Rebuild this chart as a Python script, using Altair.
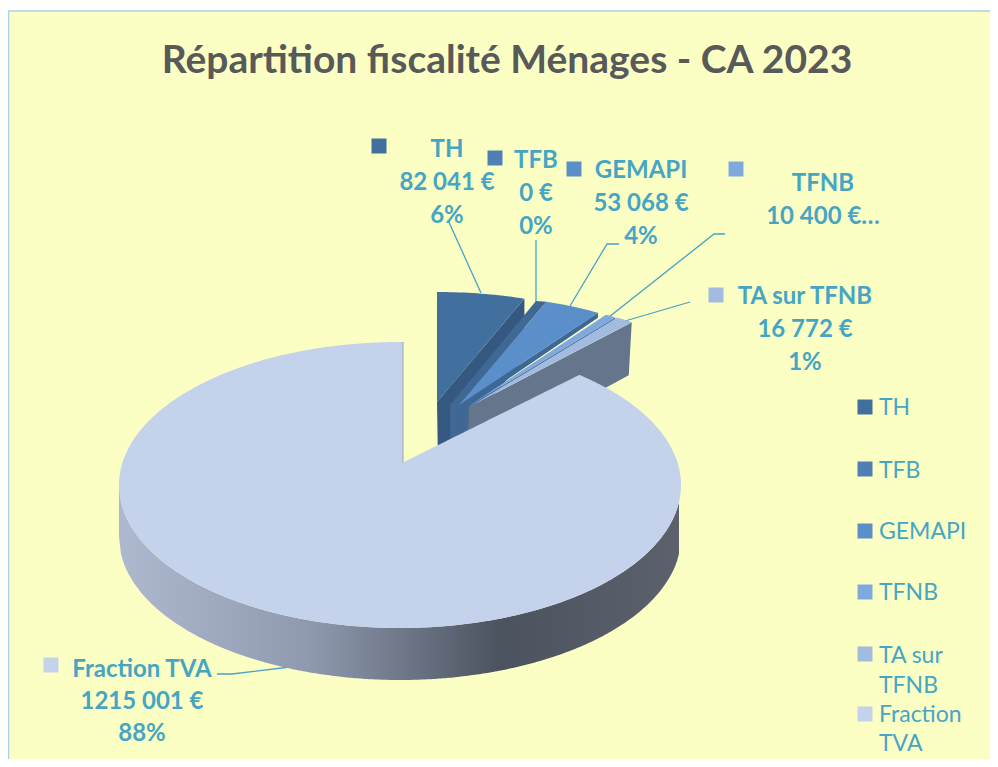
import math
import altair as alt
import pandas as pd

# ---- chart values -------------------------------------------------------
categories = ["TH", "TFB", "GEMAPI", "TFNB", "TA sur TFNB", "Fraction TVA"]
amounts = [82041, 0, 53068, 10400, 16772, 1215001]
amount_labels = ["82 041 €", "0 €", "53 068 €", "10 400 €…", "16 772 €", "1215 001 €"]
pct_labels = ["6%", "0%", "4%", "", "1%", "88%"]
colors = ["#41709f", "#4f7fb5", "#5a8fca", "#7fa8dc", "#a3bbdf", "#c4d2eb"]

# ---- layout (page pixels) -----------------------------------------------
W, H = 982, 751
X0, Y0 = 8, 8
FONT = "Lato"
LABEL = "#46a5c5"
BG = "#fbffc4"
ANGLE_SCALE = 0.935        # foreshortening of the 3D view
APEX = {"TH": (437, 402), "TFB": (450, 405), "GEMAPI": (459, 405),
        "TFNB": (467, 407), "TA sur TFNB": (469, 407)}
RX, RY = 255, 110          # back slices
CX, CY, MRX, MRY = 400, 485, 281, 143  # main slice ellipse
MAIN_APEX = (402, 463)
DEPTH = 52

x_enc = alt.X("x:Q", scale=alt.Scale(domain=[X0, X0 + W], nice=False, zero=False), axis=None)
y_scale = alt.Scale(domain=[Y0 + H, Y0], nice=False, zero=False)
y_enc = alt.Y("y:Q", scale=y_scale, axis=None)

total = sum(amounts)
cum, angles = 0.0, {}
for c, a in zip(categories, amounts):
    start = cum
    cum += a / total * 360
    angles[c] = (start * ANGLE_SCALE, min(cum * ANGLE_SCALE, 360) if c != categories[-1] else 360)


def rim(c, t):
    ax, ay = APEX[c]
    r = math.radians(t)
    return (ax + RX * math.sin(r), ay - RY * math.cos(r))


def poly_area(points, color):
    """Filled polygon (at most two crossings per x) drawn through the scales."""
    xs = set()
    for p in points:
        xs.update([p[0] - 0.01, p[0] + 0.01])
    lo, hi = min(p[0] for p in points), max(p[0] for p in points)
    rows = []
    for x in sorted(v for v in xs if lo <= v <= hi):
        ys = []
        for (x1, y1), (x2, y2) in zip(points, points[1:] + points[:1]):
            if min(x1, x2) <= x <= max(x1, x2) and x1 != x2:
                ys.append(y1 + (y2 - y1) * (x - x1) / (x2 - x1))
        if ys:
            rows.append({"x": x, "y": min(ys), "y2": max(ys)})
    return alt.Chart(pd.DataFrame(rows)).mark_area(color=color).encode(x=x_enc, y=y_enc, y2="y2:Q")


def top_face(c, color):
    t0, t1 = angles[c]
    n = max(int(t1 - t0), 2)
    arc = [rim(c, t0 + (t1 - t0) * i / n) for i in range(n + 1)]
    return poly_area([APEX[c]] + arc, color)


layers = []

# background and frame
layers.append(alt.Chart(pd.DataFrame([{"x": 8, "x2": 990, "y": 11, "y2": 759}])).mark_rect(color=BG)
              .encode(x=x_enc, x2="x2:Q", y=y_enc, y2="y2:Q"))
layers.append(alt.Chart(pd.DataFrame([{"x": 8.5, "y": 11, "y2": 759}])).mark_rule(color="#a9d2e6", strokeWidth=1.5)
              .encode(x=x_enc, y=y_enc, y2="y2:Q"))
layers.append(alt.Chart(pd.DataFrame([{"x": 8, "x2": 990, "y": 11}])).mark_rule(color="#a9d2e6", strokeWidth=1.5)
              .encode(x=x_enc, x2="x2:Q", y=y_enc))

# leader lines
leaders = {
    "TH": [(448, 220), (481, 293)],
    "TFB": [(536, 240), (536, 302)],
    "GEMAPI": [(619, 244), (607, 244), (570, 306)],
    "TFNB": [(725, 234), (714, 234), (609, 317)],
    "TA sur TFNB": [(690, 302), (625, 321)],
    "Fraction TVA": [(217, 674), (232, 674), (290, 667)],
}
rows = [{"c": c, "i": i, "x": p[0], "y": p[1]} for c, pts in leaders.items() for i, p in enumerate(pts)]
layers.append(alt.Chart(pd.DataFrame(rows)).mark_line(color="#45a2c4", strokeWidth=1.3)
              .encode(x=x_enc, y=y_enc, detail="c:N", order="i:Q"))

# TH wall and top
A = APEX["TH"]
R = rim("TH", angles["TH"][1])
layers.append(poly_area([A, R, (R[0], R[1] + 60), (A[0] + 1, A[1] + 60)], "#34587f"))
layers.append(top_face("TH", colors[0]))

# zero-width TFB slice: only its side remains, joining TH and GEMAPI
A_f, R_f = APEX["TFB"], rim("TFB", angles["TH"][1] + 2)
A_g, R_g = APEX["GEMAPI"], rim("GEMAPI", angles["GEMAPI"][0])
A_t = APEX["TA sur TFNB"]
layers.append(poly_area([A_f, (536, 301), R_g, A_g, (A_t[0], A_t[1]),
                         (A_t[0], A_t[1] + 55), (A_f[0], A_f[1] + 55)], "#3f6894"))

# GEMAPI wall + top
G_end = rim("GEMAPI", angles["GEMAPI"][1])
N_a = APEX["TFNB"]
layers.append(poly_area([A_g, G_end, (G_end[0], G_end[1] + 5), N_a], "#3d6795"))
layers.append(top_face("GEMAPI", colors[2]))

# TFNB wall + top
N_end = rim("TFNB", angles["TFNB"][1])
layers.append(poly_area([N_a, N_end, (N_end[0], N_end[1] + 4), A_t], "#47709f"))
layers.append(top_face("TFNB", colors[3]))

# TA wall + top
T_end = rim("TA sur TFNB", angles["TA sur TFNB"][1])
layers.append(poly_area([A_t, T_end, (T_end[0] - 3, T_end[1] + 53), (A_t[0] - 2, A_t[1] + 56)], "#65758c"))
layers.append(top_face("TA sur TFNB", colors[4]))

# main slice: front wall
rows = []
for i in range(0, 281):
    x = CX - MRX + 2 * i
    k = max(1 - ((x - CX) / MRX) ** 2, 0) ** 0.5
    rows.append({"x": x, "y": CY + MRY * k, "y2": CY + MRY * k + DEPTH})
grad = alt.Gradient(gradient="linear", x1=0, x2=1, y1=0, y2=0, stops=[
    alt.GradientStop(offset=0, color="#aeb9d0"),
    alt.GradientStop(offset=0.35, color="#8e98ad"),
    alt.GradientStop(offset=0.68, color="#4b535f"),
    alt.GradientStop(offset=1, color="#5c616c"),
])
layers.append(alt.Chart(pd.DataFrame(rows)).mark_area(color=grad).encode(x=x_enc, y=y_enc, y2="y2:Q"))

# main slice: top face
t0 = angles["Fraction TVA"][0]
pts = [MAIN_APEX]
for i in range(0, 361):
    t = t0 + (360 - t0) * i / 360
    r = math.radians(t)
    pts.append((CX + MRX * math.sin(r), CY - MRY * math.cos(r)))
pts.append((403, 342))
layers.append(poly_area(pts, colors[5]))
layers.append(alt.Chart(pd.DataFrame([{"x": 403, "y": 342, "y2": 463}])).mark_rule(color="#9aa6ba", strokeWidth=1)
              .encode(x=x_enc, y=y_enc, y2="y2:Q"))

# data labels
label_anchor = {"TH": (447, 150), "TFB": (536, 161), "GEMAPI": (641, 171),
                "TFNB": (823, 184), "TA sur TFNB": (805, 297), "Fraction TVA": (142, 670)}
rows = []
for c, am, pc in zip(categories, amount_labels, pct_labels):
    ax, ay = label_anchor[c]
    for j, t in enumerate([c, am, pc]):
        if t:
            rows.append({"x": ax, "y": ay + 33 * j if c != "Fraction TVA" else ay + 32 * j, "t": t})
layers.append(alt.Chart(pd.DataFrame(rows)).mark_text(font=FONT, fontWeight="bold", fontSize=24, color=LABEL,
                                                      align="center", baseline="middle")
              .encode(x=x_enc, y=y_enc, text="t:N"))

# small key squares next to the labels
key_pos = {"TH": (379, 146), "TFB": (495, 158), "GEMAPI": (574, 169), "TFNB": (736, 169),
           "TA sur TFNB": (716, 295), "Fraction TVA": (51, 665)}
legend_y = {"TH": 407, "TFB": 469, "GEMAPI": 531, "TFNB": 592, "TA sur TFNB": 654, "Fraction TVA": 714}
rows = [{"x": key_pos[c][0], "y": key_pos[c][1], "c": col} for c, col in zip(categories, colors)]
rows += [{"x": 865, "y": legend_y[c], "c": col} for c, col in zip(categories, colors)]
layers.append(alt.Chart(pd.DataFrame(rows)).mark_square(size=225, opacity=1)
              .encode(x=x_enc, y=y_enc, color=alt.Color("c:N", scale=None)))

# legend text
legend_lines = [("TH", 408), ("TFB", 471), ("GEMAPI", 532), ("TFNB", 593),
                ("TA sur", 656), ("TFNB", 686), ("Fraction", 715), ("TVA", 744)]
rows = [{"x": 879, "y": y, "t": t} for t, y in legend_lines]
layers.append(alt.Chart(pd.DataFrame(rows)).mark_text(font=FONT, fontSize=23, color=LABEL, align="left", baseline="middle")
              .encode(x=x_enc, y=y_enc, text="t:N"))

chart = alt.layer(*layers).properties(
    width=W, height=H, padding=0, autosize=alt.AutoSizeParams(type="none"),
    background="white",
    title=alt.TitleParams("Répartition fiscalité Ménages - CA 2023", font=FONT, fontSize=39, fontWeight="bold",
                          color="#595959", anchor="middle", frame="group", dx=8, dy=73, offset=0),
).configure_view(stroke=None)

chart.save("out.html", embed_options={"renderer": "svg", "actions": False})
